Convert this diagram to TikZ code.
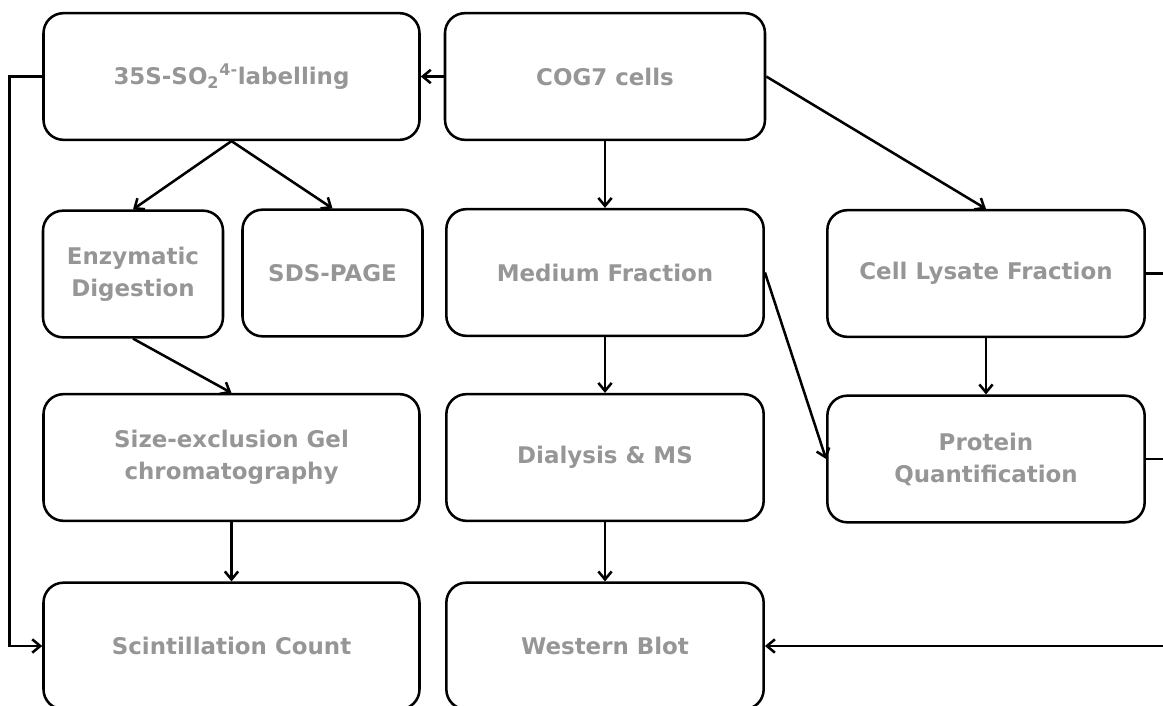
\documentclass[tikz,border=0pt]{standalone}
\usepackage{fontspec}
\setsansfont{DejaVu Sans}
\usetikzlibrary{arrows, arrows.meta}
\usetikzlibrary{positioning}
\definecolor{boxgrey}{RGB}{150,150,150}

\begin{document}
\begin{tikzpicture}[x=0.75pt,y=-0.75pt]
\tikzset{font=\sffamily\bfseries\fontsize{17.2}{24}\selectfont}
\tikzset{stepbox/.style={draw, line width=1.9pt, rounded corners=15pt, text=boxgrey, align=center, minimum height=95pt}}
\tikzset{wide/.style={stepbox, minimum width=282pt}}
\tikzset{mid/.style={stepbox, minimum width=238pt}}
\tikzset{narrow/.style={stepbox, minimum width=135pt}}
\tikzset{link/.style={draw, line width=1.9pt, -{Straight Barb[length=6pt,width=10pt]}}}
\useasboundingbox (0,0) rectangle (1163,706);
\clip (0,0) rectangle (1163,706);
% top row
\node[wide] (label) at (231.5,76.5) {35S-SO\textsubscript{2}\textsuperscript{4-}labelling};
\node[mid, minimum width=240pt] (cells) at (605,76.5) {COG7 cells};
% second row
\node[narrow] (digest) at (133,274) {Enzymatic\\Digestion};
\node[narrow] (sds) at (332.5,273) {SDS-PAGE};
\node[mid] (medium) at (605,272.5) {Medium Fraction};
\node[mid] (lysate) at (986,273.5) {Cell Lysate Fraction};
% third row
\node[wide] (gel) at (231.5,457.5) {Size-exclusion Gel\\chromatography};
\node[mid] (dialysis) at (605,457.5) {Dialysis \& MS};
\node[mid] (protein) at (986,459) {Protein\\Quantification};
% bottom row
\node[wide] (count) at (231.5,646) {Scintillation Count};
\node[mid] (blot) at (605,646) {Western Blot};
% connectors
\draw[link] (cells.west) -- (label.east);
\draw[link] (cells.south) -- (medium.north);
\draw[link] (cells.east) -- (lysate.north);
\draw[link] (label.south) -- (digest.north);
\draw[link] (label.south) -- (sds.north);
\draw[link] (digest.south) -- (gel.north);
\draw[link] (medium.east) -- (protein.west);
\draw[link] (medium.south) -- (dialysis.north);
\draw[link] (lysate.south) -- (protein.north);
\draw[link] (gel.south) -- (count.north);
\draw[link] (dialysis.south) -- (blot.north);
\draw[link] (label.west) -- ++(-33,0) |- (count.west);
\coordinate (side) at (1190,273.5);
\draw[line width=1.9pt] (lysate.east) -- (side);
\draw[line width=1.9pt] (protein.east) -- (protein.east -| side);
\draw[link] (side) |- (blot.east);
\end{tikzpicture}
\end{document}
